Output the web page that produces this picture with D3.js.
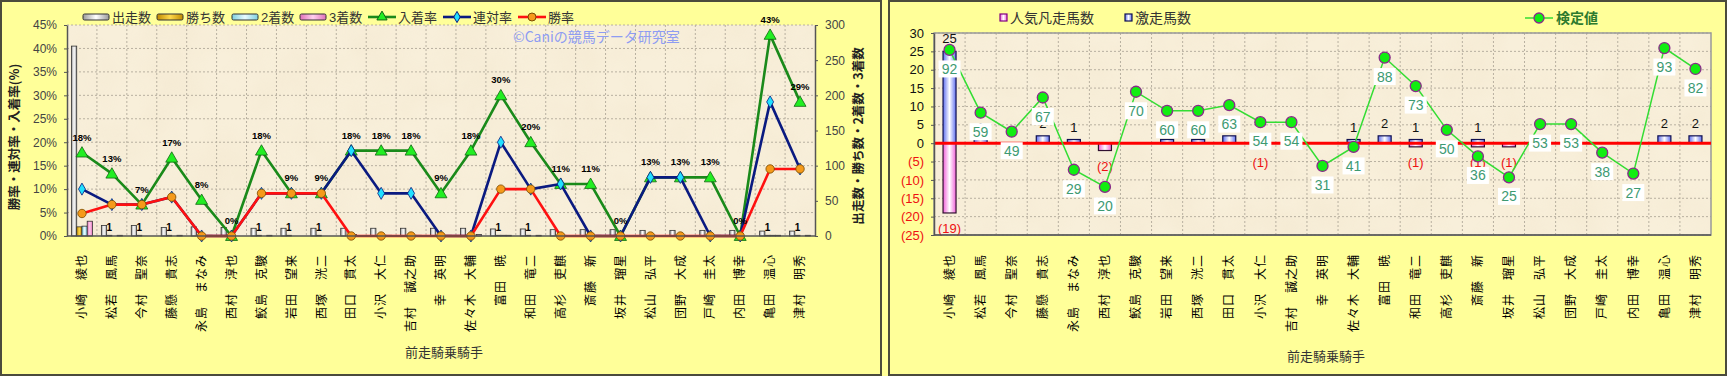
<!DOCTYPE html>
<html>
<head>
<meta charset="utf-8">
<script src="https://cdn.jsdelivr.net/npm/d3@7"></script>
<style>
body { margin: 0; background: #ffff99; }
svg { display: block; }
text { font-family: "Liberation Sans", Arial, "Noto Sans CJK JP", sans-serif; }
.jp { font-family: "Noto Sans CJK JP", sans-serif; }
</style>
</head>
<body>
<svg id="chart" width="1727" height="376"></svg>
<script>
// 騎手
var jockeys = ["小崎　綾也","松若　風馬","今村　聖奈","藤懸　貴志","永島　まなみ","西村　淳也","鮫島　克駿","岩田　望来","西塚　洸二","田口　貫太","小沢　大仁","吉村　誠之助","幸　英明","佐々木　大輔","富田　暁","和田　竜二","高杉　吏麒","斎藤　新","坂井　瑠星","松山　弘平","団野　大成","戸崎　圭太","内田　博幸","亀田　温心","津村　明秀"]

// 左: 出走数・勝ち数・2着数・3着数
var runs    = [270,15,15,12,13,12,11,11,11,11,11,11,11,11,10,10,9,9,9,8,8,8,8,7,7]
var wins    = [13,1,1,1,0,0,1,1,1,0,0,0,0,0,1,1,0,0,0,0,0,0,0,1,1]
var seconds = [14,0,0,0,0,0,0,0,0,2,1,1,0,0,1,0,1,0,0,1,1,0,0,1,0]
var thirds  = [21,1,0,1,1,0,1,0,0,0,1,1,1,2,1,1,0,1,0,0,0,1,0,1,1]

// 左: 率 (%)
var placeRate = [17.8,13.3,6.7,16.7,7.7,0,18.2,9.1,9.1,18.2,18.2,18.2,9.1,18.2,30,20,11.1,11.1,0,12.5,12.5,12.5,0,42.9,28.6]
var rentaiRate = [10,6.7,6.7,8.3,0,0,9.1,9.1,9.1,18.2,9.1,9.1,0,0,20,10,11.1,0,0,12.5,12.5,0,0,28.6,14.3]
var winRate = [4.8,6.7,6.7,8.3,0,0,9.1,9.1,9.1,0,0,0,0,0,10,10,0,0,0,0,0,0,0,14.3,14.3]

var leftTicks = [0,5,10,15,20,25,30,35,40,45]
var rightTicks = [0,50,100,150,200,250,300]

// 右: 激走馬数 / 人気凡走馬数 / 検定値
var gekisou = [25,1,0,2,1,0,0,1,1,2,0,0,0,1,2,1,0,1,0,0,0,0,0,2,2]
var bonsou  = [19,0,0,0,0,2,0,0,0,0,1,0,0,0,0,1,0,1,1,0,0,0,0,0,0]
var kentei  = [92,59,49,67,29,20,70,60,60,63,54,54,31,41,88,73,50,36,25,53,53,38,27,93,82]
var countTicks = [-25,-20,-15,-10,-5,0,5,10,15,20,25,30]

var svg = d3.select("#chart")
var defs = svg.append("defs")

function hGrad(id, edge, mid) {
    var g = defs.append("linearGradient").attr("id", id).attr("x1", 0).attr("x2", 1).attr("y1", 0).attr("y2", 0)
    g.append("stop").attr("offset", "0%").attr("stop-color", edge)
    g.append("stop").attr("offset", "50%").attr("stop-color", mid)
    g.append("stop").attr("offset", "100%").attr("stop-color", edge)
}
hGrad("gRuns", "#9a9a9a", "#ffffff")
hGrad("gWins", "#c08a00", "#ffd84a")
hGrad("gSec", "#7fd0e0", "#e8fbff")
hGrad("gThird", "#e070b8", "#ffd0ee")
hGrad("gBlue", "#6070f0", "#ffffff")
hGrad("gPink", "#f060d8", "#ffffff")

// 紙っぽい背景
var f = defs.append("filter").attr("id", "paper").attr("x", 0).attr("y", 0).attr("width", 1).attr("height", 1)
f.append("feTurbulence").attr("type", "fractalNoise").attr("baseFrequency", 0.02).attr("numOctaves", 3).attr("seed", 4)
f.append("feColorMatrix").attr("type", "matrix")
    .attr("values", "0 0 0 0 0.85  0 0 0 0 0.74  0 0 0 0 0.55  0.7 0 0 0 -0.22")

// パネル
svg.append("rect").attr("x", 1).attr("y", 1).attr("width", 880).attr("height", 374)
    .attr("fill", "#ffff99").attr("stroke", "#4b4b3c").attr("stroke-width", 2)
svg.append("rect").attr("x", 889).attr("y", 1).attr("width", 837).attr("height", 374)
    .attr("fill", "#ffff99").attr("stroke", "#4b4b3c").attr("stroke-width", 2)

function plotBg(x0, y0, x1, y1) {
    svg.append("rect").attr("x", x0).attr("y", y0).attr("width", x1 - x0).attr("height", y1 - y0).attr("fill", "#f8efda")
    svg.append("rect").attr("x", x0).attr("y", y0).attr("width", x1 - x0).attr("height", y1 - y0)
        .attr("filter", "url(#paper)").attr("opacity", 0.6)
}

function grid(xs, ys, x0, y0, x1, y1) {
    var g = svg.append("g").attr("stroke", "#b8b0a0").attr("stroke-dasharray", "2,2").attr("stroke-width", 1)
    xs.forEach(function(x) { g.append("line").attr("x1", x).attr("x2", x).attr("y1", y0).attr("y2", y1) })
    ys.forEach(function(y) { g.append("line").attr("x1", x0).attr("x2", x1).attr("y1", y).attr("y2", y) })
}

function xLabels(xScale, y) {
    var ax = svg.append("g").attr("transform", "translate(0," + y + ")")
        .call(d3.axisBottom(xScale).tickSize(0))
    ax.select(".domain").remove()
    ax.selectAll("text")
        .attr("class", "jp")
        .attr("font-size", 12)
        .attr("fill", "#000")
        .attr("y", 0).attr("x", -9).attr("dy", "0.35em")
        .attr("transform", "rotate(-90)")
        .style("text-anchor", "end")
        .style("letter-spacing", "1px")
}

// ================= 左のチャート =================
var L = {x0: 67, x1: 815, y0: 25, y1: 236}
var xL = d3.scaleBand().domain(jockeys).range([L.x0, L.x1])
var yL = d3.scaleLinear().domain([0, 45]).range([L.y1, L.y0])
var yC = d3.scaleLinear().domain([0, 300]).range([L.y1, L.y0])

plotBg(L.x0, L.y0, L.x1, L.y1)
grid(jockeys.map(function(j) { return xL(j) }).slice(1), leftTicks.slice(1).map(yL), L.x0, L.y0, L.x1, L.y1)

svg.append("text").attr("class", "jp").attr("x", 513).attr("y", 42)
    .attr("font-size", 14).attr("fill", "#8e9cf2").text("©Caniの競馬データ研究室")

// 棒
var sub = d3.scaleBand().domain(["runs", "wins", "seconds", "thirds"]).range([0, 21])
var barSeries = [
    {key: "runs", vals: runs, fill: "url(#gRuns)"},
    {key: "wins", vals: wins, fill: "url(#gWins)"},
    {key: "seconds", vals: seconds, fill: "url(#gSec)"},
    {key: "thirds", vals: thirds, fill: "url(#gThird)"}
]
var off = (xL.bandwidth() - 21) / 2
barSeries.forEach(function(s) {
    svg.append("g").selectAll("rect").data(jockeys).enter().append("rect")
        .attr("x", function(j) { return xL(j) + off + sub(s.key) })
        .attr("width", sub.bandwidth())
        .attr("y", function(j, i) { return yC(s.vals[i]) })
        .attr("height", function(j, i) { return yC(0) - yC(s.vals[i]) })
        .attr("fill", s.fill)
        .attr("stroke", "#333").attr("stroke-width", 0.8)
})
// 勝ち数ラベル
svg.append("g").selectAll("text").data(jockeys).enter()
    .filter(function(j, i) { return wins[i] === 1 })
    .append("text")
    .attr("x", function(j) { return xL(j) + off + sub("wins") + sub.bandwidth() / 2 })
    .attr("y", function(j) { return yC(wins[jockeys.indexOf(j)]) - 4 })
    .attr("text-anchor", "middle").attr("font-size", 10).attr("font-weight", "bold")
    .text(function(j) { return wins[jockeys.indexOf(j)] })

// 折れ線
function cx(j) { return xL(j) + xL.bandwidth() / 2 }
function drawLine(vals, color) {
    var line = d3.line().x(function(d, i) { return cx(jockeys[i]) }).y(function(d) { return yL(d) })
    svg.append("path").datum(vals).attr("d", line).attr("fill", "none")
        .attr("stroke", color).attr("stroke-width", 2.6).attr("stroke-linejoin", "round")
}
drawLine(placeRate, "#1a8a1a")
svg.append("g").selectAll("path").data(placeRate).enter().append("path")
    .attr("d", d3.symbol(d3.symbolTriangle).size(62))
    .attr("transform", function(d, i) { return "translate(" + cx(jockeys[i]) + "," + (yL(d) + 1) + ")" })
    .attr("fill", "#22ee22").attr("stroke", "#116611").attr("stroke-width", 0.8)

drawLine(rentaiRate, "#0a1a80")
svg.append("g").selectAll("path").data(rentaiRate).enter().append("path")
    .attr("d", d3.symbol(d3.symbolDiamond).size(42))
    .attr("transform", function(d, i) { return "translate(" + cx(jockeys[i]) + "," + yL(d) + ")" })
    .attr("fill", "#22e0ff").attr("stroke", "#0a1a80").attr("stroke-width", 0.8)

drawLine(winRate, "#ff1010")
svg.append("g").selectAll("circle").data(winRate).enter().append("circle")
    .attr("cx", function(d, i) { return cx(jockeys[i]) }).attr("cy", function(d) { return yL(d) })
    .attr("r", 4.2).attr("fill", "#f59a1a").attr("stroke", "#7a4a00").attr("stroke-width", 0.8)

// 入着率ラベル
svg.append("g").selectAll("text").data(placeRate).enter().append("text")
    .attr("x", function(d, i) { return cx(jockeys[i]) })
    .attr("y", function(d) { return yL(d) - 12 })
    .attr("text-anchor", "middle").attr("font-size", 9.5).attr("font-weight", "bold")
    .text(function(d) { return Math.round(d) + "%" })

// 軸
var axL = svg.append("g").attr("transform", "translate(" + L.x0 + ",0)")
    .call(d3.axisLeft(yL).tickValues(leftTicks).tickFormat(function(d) { return d + "%" }).tickSize(3).tickSizeOuter(0))
var axR = svg.append("g").attr("transform", "translate(" + L.x1 + ",0)")
    .call(d3.axisRight(yC).tickValues(rightTicks).tickSize(3).tickSizeOuter(0))
;[axL, axR].forEach(function(a) {
    a.select(".domain").attr("stroke", "#555").attr("stroke-width", 1.5)
    a.selectAll(".tick line").attr("stroke", "#555")
    a.selectAll("text").attr("font-size", 12).attr("fill", "#444")
})
axL.selectAll("text").attr("x", -10)
axR.selectAll("text").attr("x", 10)
svg.append("line").attr("x1", L.x0).attr("x2", L.x1).attr("y1", L.y1).attr("y2", L.y1).attr("stroke", "#555").attr("stroke-width", 1.5)

xLabels(xL, 245)

svg.append("text").attr("class", "jp").attr("transform", "translate(19,137) rotate(-90)")
    .attr("text-anchor", "middle").attr("font-size", 12.5).attr("font-weight", "bold").attr("fill", "#222")
    .text("勝率・連対率・入着率(%)")
svg.append("text").attr("class", "jp").attr("transform", "translate(863,136) rotate(-90)")
    .attr("text-anchor", "middle").attr("font-size", 12.5).attr("font-weight", "bold").attr("fill", "#222")
    .text("出走数・勝ち数・2着数・3着数")
svg.append("text").attr("class", "jp").attr("x", 444).attr("y", 357)
    .attr("text-anchor", "middle").attr("font-size", 13).attr("fill", "#333").text("前走騎乗騎手")

// 凡例 (左)
var legL = svg.append("g").attr("class", "jp").attr("font-size", 13).attr("fill", "#333")
var boxItems = [
    {x: 83, name: "出走数", fill: "url(#gRuns)"},
    {x: 157, name: "勝ち数", fill: "url(#gWins)"},
    {x: 232, name: "2着数", fill: "url(#gSec)"},
    {x: 300, name: "3着数", fill: "url(#gThird)"}
]
boxItems.forEach(function(b) {
    legL.append("rect").attr("x", b.x).attr("y", 14).attr("width", 26).attr("height", 6).attr("rx", 1.5)
        .attr("fill", b.fill).attr("stroke", "#333").attr("stroke-width", 1)
    legL.append("text").attr("x", b.x + 29).attr("y", 22).text(b.name)
})
var lineItems = [
    {x: 368, name: "入着率", color: "#1a8a1a", sym: "tri"},
    {x: 443, name: "連対率", color: "#0a1a80", sym: "dia"},
    {x: 518, name: "勝率", color: "#ff1010", sym: "cir"}
]
lineItems.forEach(function(b) {
    legL.append("line").attr("x1", b.x).attr("x2", b.x + 28).attr("y1", 17).attr("y2", 17)
        .attr("stroke", b.color).attr("stroke-width", 2.6)
    if (b.sym === "tri") legL.append("path").attr("d", d3.symbol(d3.symbolTriangle).size(45)())
        .attr("transform", "translate(" + (b.x + 14) + ",17)").attr("fill", "#22ee22").attr("stroke", "#116611")
    if (b.sym === "dia") legL.append("path").attr("d", d3.symbol(d3.symbolDiamond).size(36)())
        .attr("transform", "translate(" + (b.x + 14) + ",17)").attr("fill", "#22e0ff").attr("stroke", "#0a1a80")
    if (b.sym === "cir") legL.append("circle").attr("cx", b.x + 14).attr("cy", 17).attr("r", 4)
        .attr("fill", "#f59a1a").attr("stroke", "#7a4a00")
    legL.append("text").attr("x", b.x + 30).attr("y", 22).text(b.name)
})

// ================= 右のチャート =================
var R = {x0: 934, x1: 1711, y0: 33, y1: 235}
var xR = d3.scaleBand().domain(jockeys).range([R.x0, R.x1])
var yR = d3.scaleLinear().domain([-25, 30]).range([R.y1, R.y0])
// 検定値は非表示の第2軸
var yK = d3.scaleLinear().domain([-5.3, 100.9]).range([R.y1, R.y0])
function rx(j) { return xR(j) + xR.bandwidth() / 2 }

plotBg(R.x0, R.y0, R.x1, R.y1)
grid(jockeys.map(function(j) { return xR(j) }).slice(1), countTicks.map(yR), R.x0, R.y0, R.x1, R.y1)
svg.append("rect").attr("x", R.x0).attr("y", R.y0).attr("width", R.x1 - R.x0).attr("height", R.y1 - R.y0)
    .attr("fill", "none").attr("stroke", "#999").attr("stroke-width", 1.5)

var bw = 13
svg.append("g").selectAll("rect").data(gekisou).enter().filter(function(d) { return d > 0 }).append("rect")
    .attr("x", function(d) { return rx(jockeys[gekisou.indexOf(d)]) })
    .remove()
// 激走 (正)
svg.append("g").selectAll("rect").data(jockeys).enter().append("rect")
    .attr("x", function(j) { return rx(j) - bw / 2 }).attr("width", bw)
    .attr("y", function(j, i) { return yR(gekisou[i]) })
    .attr("height", function(j, i) { return yR(0) - yR(gekisou[i]) })
    .attr("fill", "url(#gBlue)").attr("stroke", "#101050").attr("stroke-width", 1.2)
// 人気凡走 (負)
svg.append("g").selectAll("rect").data(jockeys).enter().append("rect")
    .attr("x", function(j) { return rx(j) - bw / 2 }).attr("width", bw)
    .attr("y", yR(0))
    .attr("height", function(j, i) { return yR(-bonsou[i]) - yR(0) })
    .attr("fill", "url(#gPink)").attr("stroke", "#301030").attr("stroke-width", 1.2)

svg.append("line").attr("x1", R.x0).attr("x2", R.x1).attr("y1", yR(0)).attr("y2", yR(0))
    .attr("stroke", "#ff0000").attr("stroke-width", 3)

// 棒ラベル
svg.append("g").selectAll("text").data(jockeys).enter()
    .filter(function(j, i) { return gekisou[i] > 0 }).append("text")
    .attr("x", rx).attr("y", function(j) { return yR(gekisou[jockeys.indexOf(j)]) - 8 })
    .attr("text-anchor", "middle").attr("font-size", 13).attr("fill", "#111")
    .text(function(j) { return gekisou[jockeys.indexOf(j)] })
svg.append("g").selectAll("text").data(jockeys).enter()
    .filter(function(j, i) { return bonsou[i] > 0 }).append("text")
    .attr("x", rx).attr("y", function(j) { return yR(-bonsou[jockeys.indexOf(j)]) + 20 })
    .attr("text-anchor", "middle").attr("font-size", 13).attr("fill", "#ee1111")
    .text(function(j) { return "(" + bonsou[jockeys.indexOf(j)] + ")" })

// 検定値
var kLine = d3.line().x(function(d, i) { return rx(jockeys[i]) }).y(function(d) { return yK(d) })
svg.append("path").datum(kentei).attr("d", kLine).attr("fill", "none")
    .attr("stroke", "#33dd33").attr("stroke-width", 1.5)
svg.append("g").selectAll("circle").data(kentei).enter().append("circle")
    .attr("cx", function(d, i) { return rx(jockeys[i]) }).attr("cy", yK)
    .attr("r", 5.5).attr("fill", "#11ee11").attr("stroke", "#8a2a8a").attr("stroke-width", 1.3)
var kl = svg.append("g").selectAll("g").data(kentei).enter().append("g")
    .attr("transform", function(d, i) { return "translate(" + rx(jockeys[i]) + "," + (yK(d) + 19) + ")" })
kl.append("rect").attr("x", -11).attr("y", -8.5).attr("width", 22).attr("height", 17).attr("fill", "#fff")
kl.append("text").attr("text-anchor", "middle").attr("dy", "0.36em").attr("font-size", 14)
    .attr("fill", "#3d9a72").text(function(d) { return d })

// 軸 (右)
var axK = svg.append("g").attr("transform", "translate(" + R.x0 + ",0)")
    .call(d3.axisLeft(yR).tickValues(countTicks).tickSize(3).tickSizeOuter(0)
        .tickFormat(function(d) { return d < 0 ? "(" + (-d) + ")" : d }))
axK.select(".domain").attr("stroke", "#555").attr("stroke-width", 1.5)
axK.selectAll(".tick line").attr("stroke", "#555")
axK.selectAll("text").attr("font-size", 13).attr("x", -10)
    .attr("fill", function(d) { return d < 0 ? "#ee1111" : "#111" })
svg.append("line").attr("x1", R.x0).attr("x2", R.x1).attr("y1", R.y1).attr("y2", R.y1).attr("stroke", "#555").attr("stroke-width", 1.5)

xLabels(xR, 245)
svg.append("text").attr("class", "jp").attr("x", 1326).attr("y", 361)
    .attr("text-anchor", "middle").attr("font-size", 13).attr("fill", "#333").text("前走騎乗騎手")

// 凡例 (右)
var legR = svg.append("g").attr("class", "jp").attr("font-size", 14).attr("fill", "#333")
legR.append("rect").attr("x", 1000).attr("y", 14).attr("width", 7).attr("height", 7)
    .attr("fill", "url(#gPink)").attr("stroke", "#800080").attr("stroke-width", 1.2)
legR.append("text").attr("x", 1010).attr("y", 23).text("人気凡走馬数")
legR.append("rect").attr("x", 1125).attr("y", 14).attr("width", 7).attr("height", 7)
    .attr("fill", "url(#gBlue)").attr("stroke", "#101050").attr("stroke-width", 1.2)
legR.append("text").attr("x", 1135).attr("y", 23).text("激走馬数")
legR.append("line").attr("x1", 1525).attr("x2", 1553).attr("y1", 18).attr("y2", 18).attr("stroke", "#33dd33").attr("stroke-width", 1.5)
legR.append("circle").attr("cx", 1539).attr("cy", 18).attr("r", 5).attr("fill", "#11ee11").attr("stroke", "#8a2a8a").attr("stroke-width", 1.3)
legR.append("text").attr("x", 1556).attr("y", 23).attr("font-weight", "bold").attr("fill", "#2d7a2d").text("検定値")
</script>
</body>
</html>
